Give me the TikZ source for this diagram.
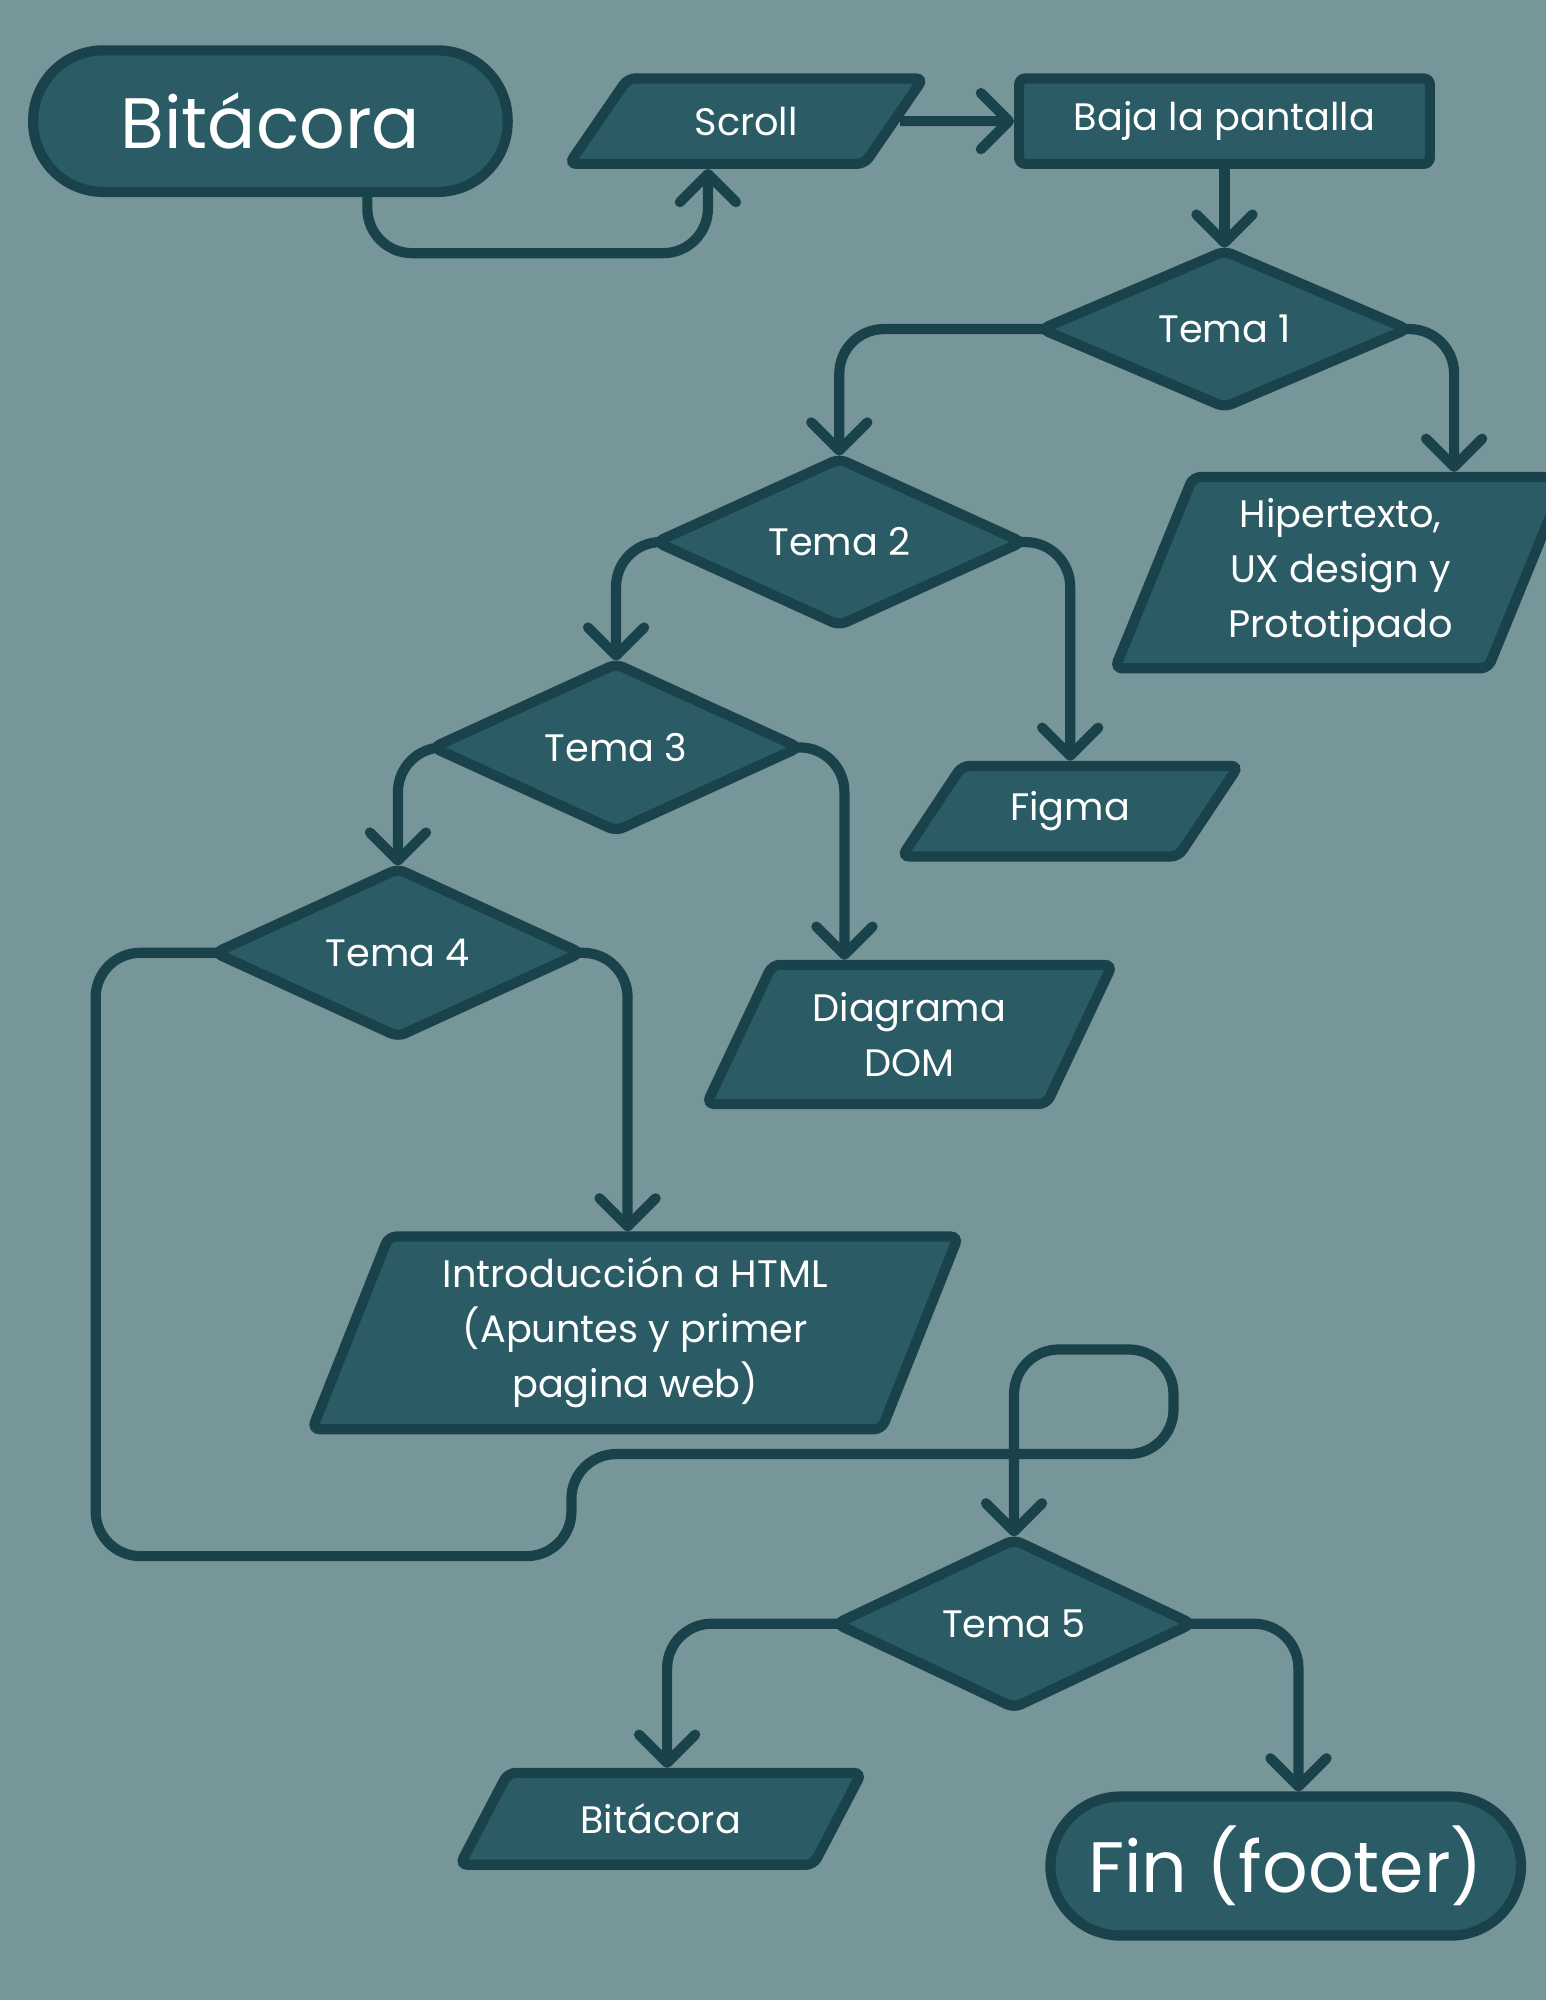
\documentclass[tikz,border=0pt]{standalone}
\usepackage{fontspec}
\setmainfont{Poppins}
\usetikzlibrary{shapes.geometric,arrows.meta}
\definecolor{fondo}{HTML}{769699}
\definecolor{relleno}{HTML}{2B5C66}
\definecolor{borde}{HTML}{19424A}
\tikzset{
  caja/.style={draw=borde,fill=relleno,line width=8pt,text=white,align=center,inner sep=0pt,
    font=\fontsize{30}{43}\selectfont},
  inicio/.style={caja,rectangle,rounded corners=55pt,font=\fontsize{56}{60}\selectfont},
  proceso/.style={caja,rectangle,rounded corners=5pt},
  decision/.style={caja,diamond,rounded corners=6pt,minimum width=290pt,minimum height=125pt},
  datos/.style={caja,trapezium,trapezium stretches=true,rounded corners=6pt,minimum height=#1,
    trapezium left angle={atan(#1/60)},trapezium right angle={180-atan(#1/60)}},
  flecha/.style={draw=borde,line width=8pt,rounded corners=35pt,
    -{Straight Barb[length=22pt,width=44pt,line cap=round,round]}}
}
\begin{document}
\begin{tikzpicture}[x=1pt,y=1pt]
\fill[fondo] (0,0) rectangle (1212,1568);
\useasboundingbox (0,0) rectangle (1212,1568);
% nodos
\node[inicio,minimum width=372pt,minimum height=111pt] (bit) at (212,1473) {Bitácora};
\node[datos=67pt,minimum width=278pt] (scroll) at (585,1473) {Scroll};
\node[proceso,minimum width=322pt,minimum height=67pt] (baja) at (960,1473) {Baja la pantalla};
\node[decision] (t1) at (960,1310) {Tema 1};
\node[decision] (t2) at (658,1143) {Tema 2};
\node[datos=150pt,minimum width=354pt] (hip) at (1051,1119) {Hipertexto,\\UX design y\\Prototipado};
\node[decision] (t3) at (483,982) {Tema 3};
\node[datos=71pt,minimum width=264pt] (figma) at (839,932) {Figma};
\node[decision] (t4) at (312,821) {Tema 4};
\node[datos=109pt,minimum width=319pt] (diag) at (713,757) {Diagrama\\DOM};
\node[datos=151pt,minimum width=509pt] (intro) at (498,523) {Introducción a HTML\\(Apuntes y primer\\pagina web)};
\node[decision,minimum width=282pt] (t5) at (795,295) {Tema 5};
\node[datos=72pt,minimum width=315pt] (bit2) at (518,142) {Bitácora};
\node[inicio,minimum width=369pt,minimum height=109pt] (fin) at (1008,105) {Fin (footer)};
% conexiones
\draw[flecha] ([xshift=76pt]bit.south) -- ++(0,-44) -| ([xshift=-30pt]scroll.south);
\draw[flecha] (scroll.east) -- (baja.west);
\draw[flecha] (baja.south) -- ([yshift=-3pt]t1.north);
\draw[flecha] ([xshift=9pt]t1.west) -| ([yshift=-3pt]t2.north);
\draw[flecha] ([xshift=-9pt]t1.east) -| ([xshift=89pt]hip.north);
\draw[flecha] ([xshift=9pt]t2.west) -| ([yshift=-3pt]t3.north);
\draw[flecha] ([xshift=-9pt]t2.east) -| (figma.north);
\draw[flecha] ([xshift=9pt]t3.west) -| ([yshift=-3pt]t4.north);
\draw[flecha] ([xshift=-9pt]t3.east) -| ([xshift=-51pt]diag.north);
\draw[flecha] ([xshift=-9pt]t4.east) -| ([xshift=-6pt]intro.north);
\draw[flecha] ([xshift=9pt]t4.west) -| (75,348) -| (448,428) -| (920,510) -| ([yshift=-3pt]t5.north);
\draw[flecha] ([xshift=9pt]t5.west) -| ([xshift=5pt]bit2.north);
\draw[flecha] ([xshift=-9pt]t5.east) -| ([xshift=10pt]fin.north);
\end{tikzpicture}
\end{document}
